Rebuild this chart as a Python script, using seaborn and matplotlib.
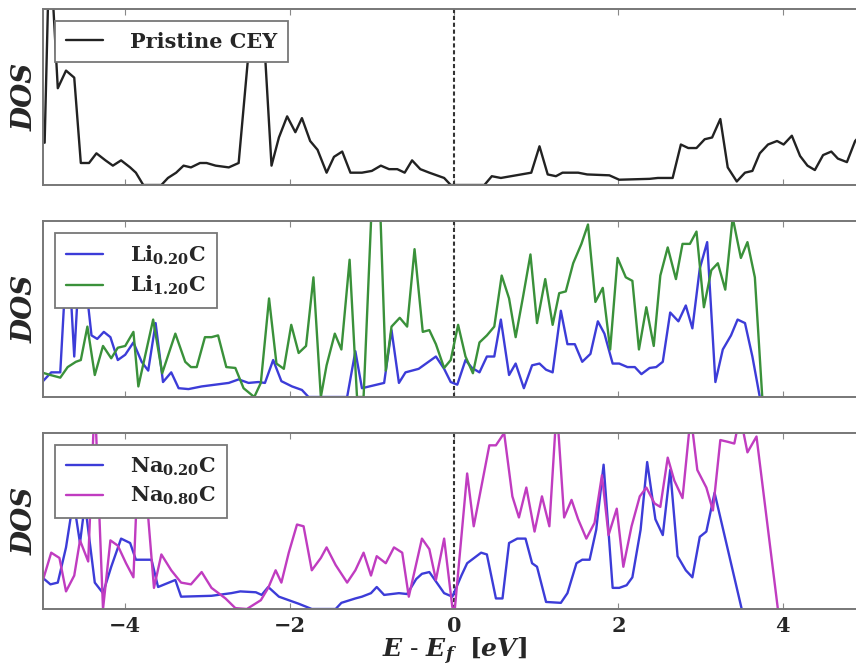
import matplotlib
matplotlib.use("Agg")
import matplotlib.pyplot as plt
import seaborn as sns
import pandas as pd

# ---------------- data ----------------
pristine_x = [-4.98, -4.92, -4.82, -4.72, -4.62, -4.54, -4.44, -4.35, -4.24, -4.15, -4.05, -3.94, -3.87, -3.78,
              -3.56, -3.48, -3.38, -3.29, -3.2, -3.09, -3.01, -2.9, -2.74, -2.62, -2.5, -2.4, -2.3, -2.22, -2.13,
              -2.03, -1.93, -1.85, -1.75, -1.66, -1.55, -1.46, -1.36, -1.26, -1.12, -1.0, -0.89, -0.79, -0.69,
              -0.6, -0.51, -0.41, -0.3, -0.12, -0.04, 0.37, 0.46, 0.57, 0.94, 1.04, 1.14, 1.24, 1.32, 1.51, 1.62,
              1.89, 2.01, 2.38, 2.48, 2.66, 2.76, 2.85, 2.95, 3.05, 3.14, 3.24, 3.33, 3.44, 3.54, 3.63, 3.72,
              3.82, 3.93, 4.01, 4.11, 4.21, 4.3, 4.39, 4.49, 4.59, 4.67, 4.78, 4.88, 4.98]
pristine_dos = [0.24, 1.4, 0.55, 0.65, 0.61, 0.125, 0.125, 0.18, 0.14, 0.11, 0.14, 0.10, 0.07, 0.0,
                0.0, 0.04, 0.07, 0.11, 0.10, 0.125, 0.125, 0.11, 0.10, 0.125, 0.75, 0.9, 0.75, 0.11, 0.27,
                0.39, 0.30, 0.38, 0.25, 0.20, 0.07, 0.16, 0.19, 0.07, 0.07, 0.08, 0.11, 0.09, 0.09,
                0.07, 0.14, 0.09, 0.07, 0.04, 0.0, 0.0, 0.05, 0.04, 0.07, 0.22, 0.06, 0.05, 0.07, 0.07, 0.06,
                0.055, 0.03, 0.035, 0.04, 0.04, 0.23, 0.21, 0.21, 0.26, 0.27, 0.375, 0.10, 0.02, 0.07, 0.08, 0.18,
                0.23, 0.25, 0.23, 0.28, 0.165, 0.11, 0.085, 0.17, 0.19, 0.15, 0.13, 0.25, 0.3]

li020_x = [-5.02, -4.9, -4.79, -4.7, -4.62, -4.54, -4.41, -4.34, -4.26, -4.18, -4.09, -4.0, -3.9, -3.8, -3.72,
           -3.63, -3.54, -3.44, -3.35, -3.23, -3.07, -2.74, -2.62, -2.5, -2.38, -2.3, -2.2, -2.1, -1.97, -1.85,
           -1.77, -1.3, -1.2, -1.12, -0.85, -0.76, -0.67, -0.59, -0.43, -0.22, -0.12, -0.04, 0.04, 0.14, 0.22,
           0.31, 0.4, 0.49, 0.57, 0.67, 0.75, 0.85, 0.95, 1.04, 1.12, 1.2, 1.3, 1.38, 1.47, 1.56, 1.66, 1.75,
           1.83, 1.93, 2.01, 2.11, 2.2, 2.28, 2.38, 2.46, 2.54, 2.63, 2.73, 2.82, 2.9, 2.99, 3.08, 3.18, 3.27,
           3.37, 3.45, 3.54, 3.63, 3.72]
li020_dos = [0.08, 0.14, 0.14, 0.9, 0.23, 0.9, 0.35, 0.33, 0.37, 0.34, 0.21, 0.24, 0.31, 0.20, 0.15,
             0.42, 0.085, 0.14, 0.05, 0.045, 0.06, 0.08, 0.10, 0.08, 0.085, 0.08, 0.21, 0.09, 0.06, 0.04,
             0.0, 0.0, 0.26, 0.05, 0.08, 0.38, 0.08, 0.14, 0.16, 0.23, 0.16, 0.085, 0.07, 0.21, 0.165,
             0.14, 0.23, 0.23, 0.44, 0.125, 0.19, 0.05, 0.18, 0.19, 0.155, 0.14, 0.49, 0.30, 0.30, 0.20, 0.245, 0.43,
             0.36, 0.19, 0.19, 0.17, 0.17, 0.13, 0.165, 0.17, 0.20, 0.48, 0.43, 0.52, 0.39, 0.73, 0.88, 0.085, 0.27,
             0.35, 0.44, 0.42, 0.23, 0.0]

li120_x = [-5.02, -4.91, -4.79, -4.7, -4.6, -4.54, -4.46, -4.37, -4.27, -4.17, -4.09, -4.0, -3.9, -3.84, -3.66,
           -3.55, -3.39, -3.27, -3.2, -3.13, -3.03, -2.95, -2.87, -2.77, -2.66, -2.56, -2.43, -2.35, -2.25, -2.16,
           -2.07, -1.98, -1.89, -1.80, -1.71, -1.62, -1.55, -1.45, -1.37, -1.27, -1.18, -1.10, -1.0, -0.9, -0.83,
           -0.76, -0.66, -0.57, -0.48, -0.38, -0.3, -0.22, -0.12, -0.04, 0.05, 0.14, 0.23, 0.31, 0.4, 0.49, 0.58,
           0.67, 0.75, 0.84, 0.93, 1.01, 1.11, 1.2, 1.28, 1.36, 1.45, 1.55, 1.63, 1.72, 1.81, 1.9, 1.99, 2.09,
           2.17, 2.25, 2.34, 2.43, 2.51, 2.6, 2.7, 2.78, 2.87, 2.95, 3.04, 3.13, 3.21, 3.3, 3.39, 3.49, 3.57,
           3.66, 3.75]
li120_dos = [0.14, 0.125, 0.11, 0.17, 0.20, 0.21, 0.40, 0.125, 0.29, 0.22, 0.28, 0.29, 0.37, 0.06, 0.44,
             0.135, 0.36, 0.20, 0.17, 0.17, 0.34, 0.34, 0.35, 0.17, 0.165, 0.05, 0.0, 0.08, 0.56, 0.19,
             0.16, 0.41, 0.25, 0.29, 0.68, 0.0, 0.18, 0.36, 0.27, 0.78, 0.0, 0.0, 1.1, 1.1, 0.15,
             0.40, 0.45, 0.40, 0.84, 0.37, 0.38, 0.30, 0.165, 0.21, 0.41, 0.23, 0.135, 0.31, 0.35, 0.40, 0.69,
             0.56, 0.34, 0.57, 0.81, 0.42, 0.67, 0.41, 0.59, 0.60, 0.76, 0.87, 0.98, 0.54, 0.62, 0.27, 0.79, 0.68,
             0.66, 0.27, 0.51, 0.29, 0.69, 0.85, 0.67, 0.87, 0.87, 0.94, 0.51, 0.72, 0.76, 0.61, 1.02, 0.79, 0.88,
             0.68, 0.0]

na020_x = [-5.01, -4.91, -4.82, -4.72, -4.63, -4.55, -4.49, -4.37, -4.27, -4.17, -4.05, -3.94, -3.87, -3.68,
           -3.6, -3.39, -3.32, -2.95, -2.71, -2.6, -2.41, -2.34, -2.26, -2.13, -1.89, -1.73, -1.44, -1.37, -1.2,
           -1.12, -1.01, -0.94, -0.85, -0.76, -0.67, -0.57, -0.46, -0.39, -0.3, -0.21, -0.12, -0.02, 0.09, 0.16,
           0.33, 0.4, 0.51, 0.59, 0.67, 0.77, 0.87, 0.95, 1.01, 1.12, 1.3, 1.38, 1.49, 1.56, 1.65, 1.73, 1.82,
           1.93, 2.01, 2.1, 2.17, 2.27, 2.35, 2.45, 2.54, 2.63, 2.72, 2.82, 2.9, 2.99, 3.07, 3.17, 3.5]
na020_dos = [0.18, 0.14, 0.15, 0.35, 0.62, 0.375, 0.6, 0.15, 0.09, 0.24, 0.40, 0.375, 0.28, 0.28,
             0.125, 0.165, 0.07, 0.075, 0.09, 0.10, 0.095, 0.08, 0.125, 0.07, 0.03, 0.0, 0.0, 0.035, 0.06,
             0.07, 0.09, 0.125, 0.08, 0.085, 0.09, 0.085, 0.17, 0.20, 0.21, 0.15, 0.09, 0.07, 0.19, 0.26,
             0.32, 0.31, 0.06, 0.06, 0.375, 0.40, 0.40, 0.26, 0.24, 0.04, 0.035, 0.09, 0.26, 0.28, 0.28, 0.45, 0.82,
             0.12, 0.12, 0.135, 0.18, 0.45, 0.835, 0.51, 0.42, 0.79, 0.30, 0.22, 0.18, 0.41, 0.44, 0.66, 0.0]

na080_x = [-5.01, -4.9, -4.8, -4.72, -4.62, -4.55, -4.45, -4.37, -4.27, -4.18, -4.09, -3.99, -3.9, -3.84, -3.76,
           -3.65, -3.56, -3.44, -3.32, -3.2, -3.07, -2.95, -2.78, -2.66, -2.52, -2.35, -2.26, -2.17, -2.1, -2.01,
           -1.91, -1.83, -1.73, -1.62, -1.55, -1.44, -1.3, -1.2, -1.1, -1.01, -0.94, -0.83, -0.73, -0.63, -0.55,
           -0.39, -0.3, -0.22, -0.12, -0.02, 0.01, 0.16, 0.24, 0.43, 0.51, 0.61, 0.71, 0.79, 0.88, 0.98, 1.07,
           1.16, 1.25, 1.34, 1.43, 1.51, 1.61, 1.71, 1.8, 1.88, 1.98, 2.06, 2.16, 2.26, 2.34, 2.44, 2.51, 2.6,
           2.68, 2.78, 2.88, 2.96, 3.07, 3.15, 3.24, 3.33, 3.41, 3.48, 3.57, 3.68, 3.94]
na080_dos = [0.15, 0.32, 0.29, 0.10, 0.19, 0.39, 0.27, 1.2, 0.0, 0.39, 0.36, 0.26, 0.18, 0.85, 0.75,
             0.12, 0.31, 0.22, 0.15, 0.14, 0.21, 0.12, 0.06, 0.005, 0.0, 0.05, 0.12, 0.22, 0.15, 0.32,
             0.48, 0.47, 0.22, 0.29, 0.35, 0.25, 0.15, 0.22, 0.32, 0.19, 0.30, 0.26, 0.35, 0.32, 0.07,
             0.40, 0.34, 0.165, 0.40, 0.01, 0.0, 0.77, 0.47, 0.93, 0.93, 1.0, 0.64, 0.52, 0.69, 0.44, 0.64,
             0.47, 1.15, 0.52, 0.62, 0.51, 0.40, 0.49, 0.76, 0.42, 0.57, 0.24, 0.47, 0.64, 0.69, 0.60, 0.58, 0.86,
             0.73, 0.63, 1.1, 0.79, 0.69, 0.56, 0.96, 0.95, 0.94, 1.1, 0.89, 0.98, 0.0]

x_ticks = [-4, -2, 0, 2, 4]
labels_top = ["Pristine CEY"]
labels_mid = [r"$\mathbf{Li_{0.20}C}$", r"$\mathbf{Li_{1.20}C}$"]
labels_bot = [r"$\mathbf{Na_{0.20}C}$", r"$\mathbf{Na_{0.80}C}$"]

# ---------------- style ----------------
sns.set_style("white")
plt.rcParams["font.family"] = ["DejaVu Serif"]
plt.rcParams["font.weight"] = "bold"
plt.rcParams["mathtext.fontset"] = "custom"
plt.rcParams["mathtext.rm"] = "DejaVu Serif:bold"
plt.rcParams["mathtext.bf"] = "DejaVu Serif:bold"
plt.rcParams["mathtext.it"] = "DejaVu Serif:italic:bold"

W, H = 856, 671
fig = plt.figure(figsize=(W / 100, H / 100), dpi=100)

left = 43 / W
width = 822 / W
panels = [(9, 185), (221, 397), (433, 609)]
axes = [fig.add_axes([left, (H - b) / H, width, (b - t) / H]) for t, b in panels]

series = [
    [(pristine_x, pristine_dos, "#222222", labels_top[0])],
    [(li020_x, li020_dos, "#3c3cd8", labels_mid[0]), (li120_x, li120_dos, "#3a913a", labels_mid[1])],
    [(na020_x, na020_dos, "#3c3cd8", labels_bot[0]), (na080_x, na080_dos, "#c03cc0", labels_bot[1])],
]

for i, (ax, ser) in enumerate(zip(axes, series)):
    for xs, ys, col, lab in ser:
        df = pd.DataFrame({"E": xs, "DOS": ys})
        sns.lineplot(data=df, x="E", y="DOS", ax=ax, color=col, label=lab,
                     sort=False, estimator=None, linewidth=1.7)
    ax.axvline(0, color="#333333", linestyle=(0, (2, 1.3)), linewidth=1.5, zorder=1)
    ax.set_xlim(-5, 5)
    ax.set_ylim(0, 1)
    ax.set_yticks([])
    ax.set_xticks(x_ticks)
    ax.tick_params(axis="x", direction="in", length=4, color="#888888", top=True, bottom=True,
                   labelsize=15, pad=5)
    for s in ax.spines.values():
        s.set_color("#777777")
        s.set_linewidth(1.4)
    ax.set_ylabel("DOS", fontsize=20, fontstyle="italic", fontweight="bold", labelpad=3)
    ax.set_xlabel("")
    if i < 2:
        ax.tick_params(axis="x", labelbottom=False)
    leg = ax.legend(loc="upper left", fontsize=15, frameon=True, fancybox=False, framealpha=1,
                    edgecolor="#777777", borderaxespad=0.58, borderpad=0.5, handlelength=1.8,
                    handletextpad=1.3, labelspacing=0.35)
    leg.get_frame().set_linewidth(1.3)
    for line in leg.get_lines():
        line.set_linewidth(1.7)

axes[2].set_xlabel(r"$E$ - $E_f$  $[eV]$", fontsize=18, labelpad=0)

fig.savefig("out.png", dpi=100)
